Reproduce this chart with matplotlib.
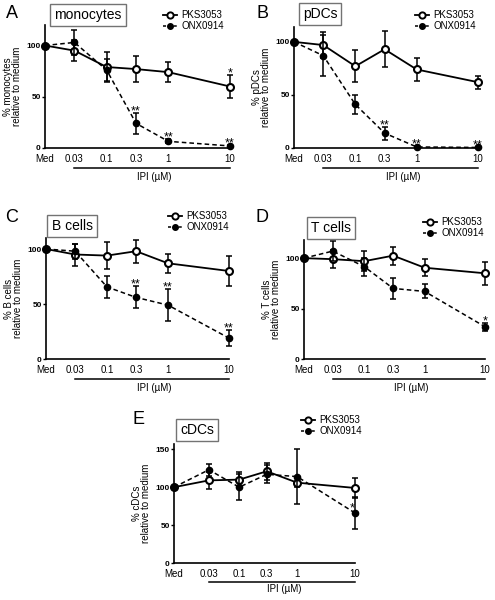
import matplotlib.pyplot as plt
from matplotlib.ticker import NullLocator
from matplotlib.lines import Line2D

plt.rcParams['font.family'] = ['Liberation Sans', 'DejaVu Sans']

W, H = 495, 600

# x axis: medium control + inhibitor doses (uM)
dose_labels = ['Med', '0.03', '0.1', '0.3', '1', '10']
doses = [0.03, 0.1, 0.3, 1, 10]

# A: monocytes
mono_pks = [100, 95, 79, 77, 74, 60]
mono_pks_err = [0, 10, 15, 13, 10, 11]
mono_onx = [100, 103, 76, 24, 6.5, 2]
mono_onx_err = [0, 12, 11, 10, 2, 1]
mono_pks_sig = ['', '', '', '', '', '*']
mono_onx_sig = ['', '', '', '**', '**', '**']

# B: pDCs
pdc_pks = [100, 97, 77, 93, 74, 62]
pdc_pks_err = [0, 12, 15, 17, 11, 6]
pdc_onx = [100, 87, 41, 14, 1, 0.5]
pdc_onx_err = [0, 19, 8.5, 6, 0.5, 0.3]
pdc_pks_sig = ['', '', '', '', '', '']
pdc_onx_sig = ['', '', '', '**', '**', '**']

# C: B cells
bcell_pks = [100, 95, 94, 98, 87, 80]
bcell_pks_err = [0, 10, 12, 10.5, 8.5, 13.5]
bcell_onx = [100, 98, 65.5, 56, 49, 19]
bcell_onx_err = [0, 7, 10, 10, 14.5, 7]
bcell_pks_sig = ['', '', '', '', '', '']
bcell_onx_sig = ['', '', '', '**', '**', '**']

# D: T cells
tcell_pks = [100, 99, 97, 102.5, 90.5, 85]
tcell_pks_err = [0, 9, 10, 9, 8.5, 11.5]
tcell_onx = [100, 107, 91.5, 70, 67, 32]
tcell_onx_err = [0, 10, 9, 10.5, 7, 4]
tcell_pks_sig = ['', '', '', '', '', '']
tcell_onx_sig = ['', '', '', '', '', '*']

# E: cDCs
cdc_pks = [100, 109, 110, 121, 106, 99]
cdc_pks_err = [0, 11, 10, 11, 6, 13]
cdc_onx = [100, 123, 100, 117, 114, 66]
cdc_onx_err = [0, 8, 17, 12, 36, 21]
cdc_pks_sig = ['', '', '', '', '', '']
cdc_onx_sig = ['', '', '', '', '', '*']

fig = plt.figure(figsize=(W / 100, H / 100), dpi=100)


def px_rect(x0, y0, x1, y1):
    return [x0 / W, 1 - y1 / H, (x1 - x0) / W, (y1 - y0) / H]


def panel(box, med, ylim, yticks, ylabel, title, title_xy, letter, letter_xy,
          leg_xy, pks, pks_err, onx, onx_err, pks_sig, onx_sig,
          brk=(20, 29), star_mean=False):
    x0, y0, x1, y1 = box
    ax = fig.add_axes(px_rect(x0, y0, x1, y1))
    ax_h = y1 - y0
    xs = [med] + doses

    # error bars first, markers on top
    ax.errorbar(xs[1:], pks[1:], yerr=pks_err[1:], fmt='none', ecolor='k',
                elinewidth=1.1, capsize=2.5, capthick=1.1, zorder=2, clip_on=False)
    ax.plot(xs, pks, '-o', color='k', lw=1.3, ms=5, mfc='white', mec='k',
            mew=1.5, zorder=3, clip_on=False)
    ax.errorbar(xs[1:], onx[1:], yerr=onx_err[1:], fmt='none', ecolor='k',
                elinewidth=1.1, capsize=2.5, capthick=1.1, zorder=4, clip_on=False)
    ax.plot(xs, onx, '--o', color='k', lw=1.1, ms=4.5, mfc='k', mec='k',
            dashes=(3, 2), zorder=5, clip_on=False)

    # significance stars
    for xi, v, e, s in zip(xs, pks, pks_err, pks_sig):
        if s:
            ax.annotate(s, (xi, v + e), xytext=(0, -1), textcoords='offset points',
                        ha='center', va='baseline', fontsize=9, annotation_clip=False)
    for xi, v, e, s in zip(xs, onx, onx_err, onx_sig):
        if s:
            if star_mean:
                ax.annotate(s, (xi, v), xytext=(-2, 1), textcoords='offset points',
                            ha='center', va='baseline', fontsize=9, annotation_clip=False)
            else:
                ax.annotate(s, (xi, v + e), xytext=(0, -1), textcoords='offset points',
                            ha='center', va='baseline', fontsize=9, annotation_clip=False)

    ax.set_xscale('log')
    ax.set_xlim(med, 10)
    ax.set_ylim(*ylim)
    ax.set_xticks(xs)
    ax.set_xticklabels(dose_labels)
    ax.xaxis.set_minor_locator(NullLocator())
    ax.set_yticks(yticks)
    ax.tick_params(axis='x', length=0, labelsize=7, pad=4)
    ax.tick_params(axis='y', length=2, width=1, labelsize=6, pad=1)
    for lbl in ax.get_yticklabels():
        lbl.set_fontweight('bold')
    for side in ['top', 'right']:
        ax.spines[side].set_visible(False)
    for side in ['left', 'bottom']:
        ax.spines[side].set_linewidth(1.2)
    ax.set_ylabel(ylabel, fontsize=7, linespacing=0.9, labelpad=3)

    # dose bracket and axis title
    ax.plot([doses[0], doses[-1]], [-brk[0] / ax_h] * 2, color='k', lw=1.1,
            transform=ax.get_xaxis_transform(), clip_on=False)
    ax.text(0.6, -brk[1] / ax_h, 'IPI (µM)', fontsize=7, ha='center', va='center',
            transform=ax.get_xaxis_transform())

    fig.text(title_xy[0] / W, 1 - title_xy[1] / H, title, fontsize=10,
             ha='center', va='center',
             bbox=dict(boxstyle='square,pad=0.3', fc='white', ec='0.45', lw=1))
    fig.text(letter_xy[0] / W, 1 - letter_xy[1] / H, letter, fontsize=13,
             ha='center', va='center')

    handles = [Line2D([], [], ls='-', color='k', lw=1.3, marker='o', ms=4.5,
                      mfc='white', mec='k', mew=1.4),
               Line2D([], [], ls='--', color='k', lw=1.1, marker='o', ms=4,
                      mfc='k', dashes=(2, 1.5))]
    ax.legend(handles, ['PKS3053', 'ONX0914'], loc='upper left',
              bbox_to_anchor=(leg_xy[0] / W, 1 - leg_xy[1] / H),
              bbox_transform=fig.transFigure, frameon=False, fontsize=7,
              borderpad=0, borderaxespad=0, handlelength=1.4, handletextpad=0.5,
              labelspacing=0.1)
    return ax


panel((45, 25, 230, 148), 0.01, (0, 120), [0, 50, 100],
      '% monocytes\nrelative to medium', 'monocytes', (88, 15), 'A', (12, 14),
      (163, 10), mono_pks, mono_pks_err, mono_onx, mono_onx_err,
      mono_pks_sig, mono_onx_sig)

panel((294, 27, 478, 148), 0.01, (0, 114), [0, 50, 100],
      '% pDCs\nrelative to medium', 'pDCs', (320, 14), 'B', (262, 13),
      (415, 10), pdc_pks, pdc_pks_err, pdc_onx, pdc_onx_err,
      pdc_pks_sig, pdc_onx_sig)

panel((46, 238, 229, 359), 0.01, (0, 110), [0, 50, 100],
      '% B cells\nrelative to medium', 'B cells', (72, 226), 'C', (12, 217),
      (168, 211), bcell_pks, bcell_pks_err, bcell_onx, bcell_onx_err,
      bcell_pks_sig, bcell_onx_sig)

panel((304, 240, 485, 359), 0.01, (0, 118), [0, 50, 100],
      '% T cells\nrelative to medium', 'T cells', (331, 228), 'D', (262, 217),
      (423, 217), tcell_pks, tcell_pks_err, tcell_onx, tcell_onx_err,
      tcell_pks_sig, tcell_onx_sig)

panel((174, 444, 355, 563), 0.0075, (0, 157), [0, 50, 100, 150],
      '% cDCs\nrelative to medium', 'cDCs', (197, 430), 'E', (138, 420),
      (301, 415), cdc_pks, cdc_pks_err, cdc_onx, cdc_onx_err,
      cdc_pks_sig, cdc_onx_sig, brk=(19, 26), star_mean=True)

fig.savefig('out.png', dpi=100)
